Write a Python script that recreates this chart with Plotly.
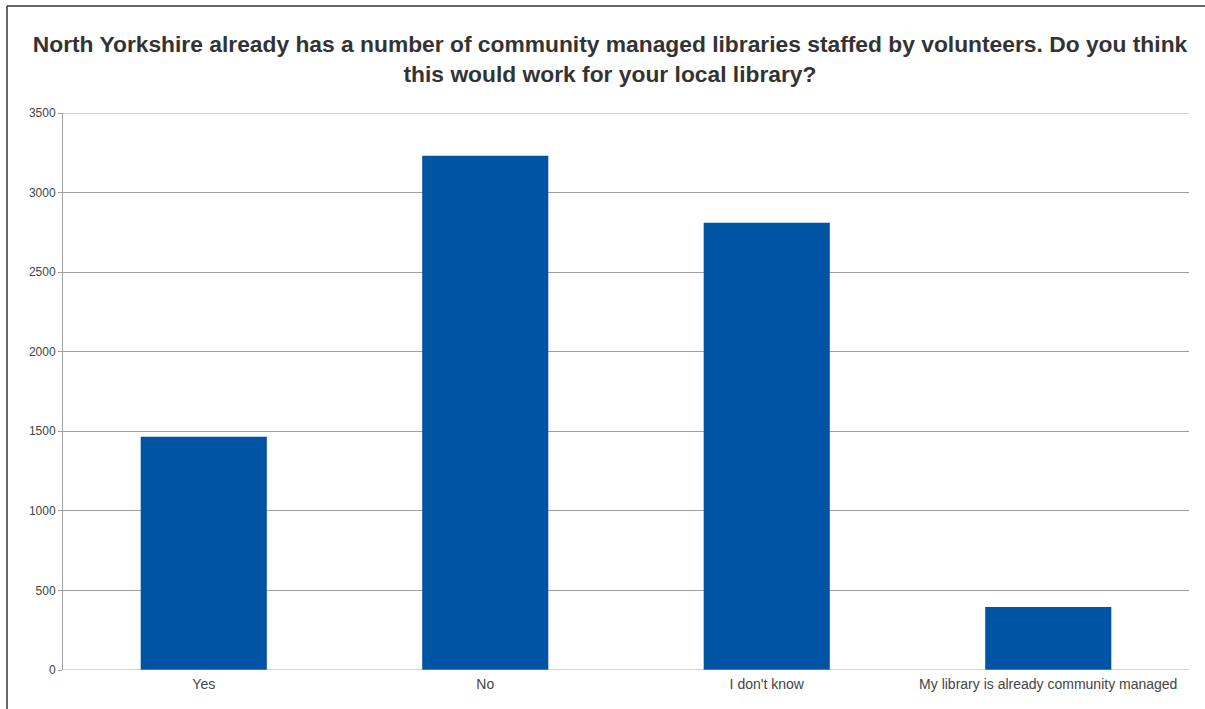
import plotly.graph_objects as go

categories = ["Yes", "No", "I don't know", "My library is already community managed"]
responses = [1466, 3232, 2811, 396]
y_ticks = [0, 500, 1000, 1500, 2000, 2500, 3000, 3500]

title_text = ("North Yorkshire already has a number of community managed libraries staffed by volunteers. Do you think"
              "<br>this would work for your local library?")

W, H = 1205, 709
L, R, T, B = 63, 16, 113, 39
pw, ph = W - L - R, H - T - B
FONT = "Liberation Sans"

def px(x):
    return (x - L) / pw

def py(y):
    return (H - B - y) / ph

fig = go.Figure(
    go.Bar(
        x=categories,
        y=responses,
        marker=dict(color="#0054a4", line=dict(width=0)),
        width=0.448,
        hoverinfo="x+y",
    )
)

fig.update_layout(
    width=W,
    height=H,
    margin=dict(l=L, r=R, t=T, b=B, pad=0),
    paper_bgcolor="white",
    plot_bgcolor="white",
    font=dict(family=FONT, size=12, color="#444444"),
    title=dict(
        text=title_text,
        x=610 / W,
        xanchor="center",
        y=1 - 52 / H,
        yanchor="top",
        font=dict(family=FONT, size=22.8, color="#333333", weight="bold"),
    ),
    showlegend=False,
    xaxis=dict(
        showgrid=False,
        showline=False,
        ticks="",
        tickfont=dict(family=FONT, size=14, color="#444444"),
        ticklabelstandoff=4,
    ),
    yaxis=dict(
        range=[0, 3500],
        tickvals=y_ticks,
        ticktext=[str(v) for v in y_ticks],
        showgrid=True,
        gridcolor="#a0a0a0",
        gridwidth=1,
        zeroline=False,
        showline=True,
        linecolor="#a0a0a0",
        linewidth=1,
        ticks="outside",
        ticklen=4,
        tickcolor="#a0a0a0",
        tickfont=dict(family=FONT, size=12, color="#444444"),
    ),
    shapes=[
        # baseline and top gridline drawn at the axis limits
        dict(type="line", xref="paper", yref="y", x0=0, x1=1, y0=y_ticks[0], y1=y_ticks[0],
             line=dict(color="#a0a0a0", width=1), layer="above"),
        dict(type="line", xref="paper", yref="y", x0=0, x1=1, y0=y_ticks[-1], y1=y_ticks[-1],
             line=dict(color="#a0a0a0", width=1), layer="below"),
        # outer frame (left and top edges)
        dict(type="line", xref="paper", yref="paper", x0=px(7), x1=px(7), y0=py(6), y1=py(H + 5),
             line=dict(color="#333333", width=1.5)),
        dict(type="line", xref="paper", yref="paper", x0=px(7), x1=px(W + 5), y0=py(6), y1=py(6),
             line=dict(color="#333333", width=1.5)),
    ],
)

fig.write_html("out.html")
